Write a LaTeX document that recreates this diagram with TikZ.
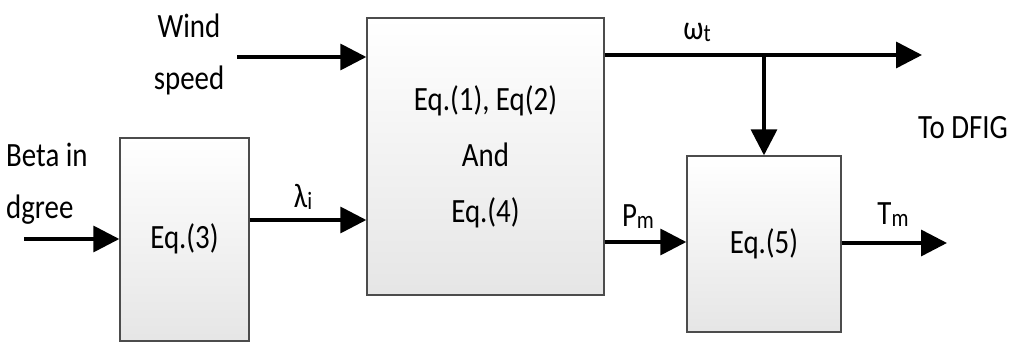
\documentclass[tikz,border=0pt]{standalone}
\usepackage{fontspec}
\setmainfont{Carlito}[FakeStretch=0.85]
\usetikzlibrary{arrows.meta}
\newcommand{\lowsub}[1]{\raisebox{-2pt}{\fontsize{25}{25}\selectfont #1}}
\begin{document}
\begin{tikzpicture}[x=1pt,y=-1pt,
  blk/.style={draw=black!70,line width=1.4pt,top color=white,bottom color=black!10,minimum width=#1,inner sep=0pt},
  sig/.style={line width=3.5pt,-{Triangle[length=26pt,width=26pt]}},
  lbl/.style={inner sep=0pt,font=\fontsize{34}{52}\selectfont}]
\useasboundingbox (0,0) rectangle (1018,344);
\node[blk=129pt,minimum height=203pt] (b3) at (184.5,239.5) {};
\node[blk=237pt,minimum height=277pt] (b1) at (485.5,156.5) {};
\node[blk=154pt,minimum height=176pt] (b5) at (764,244) {};
\node[lbl] (t3) at (184.5,239) {Eq.(3)};
\node[lbl,align=center,font=\fontsize{34}{56}\selectfont] (t1) at (485.5,157) {Eq.(1), Eq(2)\\And\\Eq.(4)};
\node[lbl] (t5) at (764,244) {Eq.(5)};
\node[lbl,align=center] (wind) at (189,54) {Wind\\speed};
\node[lbl,align=left,anchor=west] (beta) at (6,184) {Beta in\\dgree};
\node[lbl] (lam) at (303,197) {λ\lowsub{i}};
\node[lbl] (om) at (697,32) {ω\lowsub{t}};
\node[lbl] (pm) at (638,217) {P\lowsub{m}};
\node[lbl] (tm) at (893,215) {T\lowsub{m}};
\node[lbl] (dfig) at (963,128) {To DFIG};
\coordinate (wstart) at (237,57);
\coordinate (bstart) at (24,239);
\coordinate (omend) at (922,55);
\coordinate (tmend) at (947,243);
\coordinate (br) at (b5.north |- omend);
\draw[sig] (wstart) -- (wstart -| b1.west);
\draw[sig] (bstart) -- (bstart -| b3.west);
\draw[sig] (b3.east |- 0,220) -- (b1.west |- 0,220);
\draw[sig] (b1.east |- omend) -- (omend);
\draw[sig] (br) -- (b5.north);
\draw[sig] (b1.east |- 0,242) -- (b5.west |- 0,242);
\draw[sig] (b5.east |- tmend) -- (tmend);
\end{tikzpicture}
\end{document}
